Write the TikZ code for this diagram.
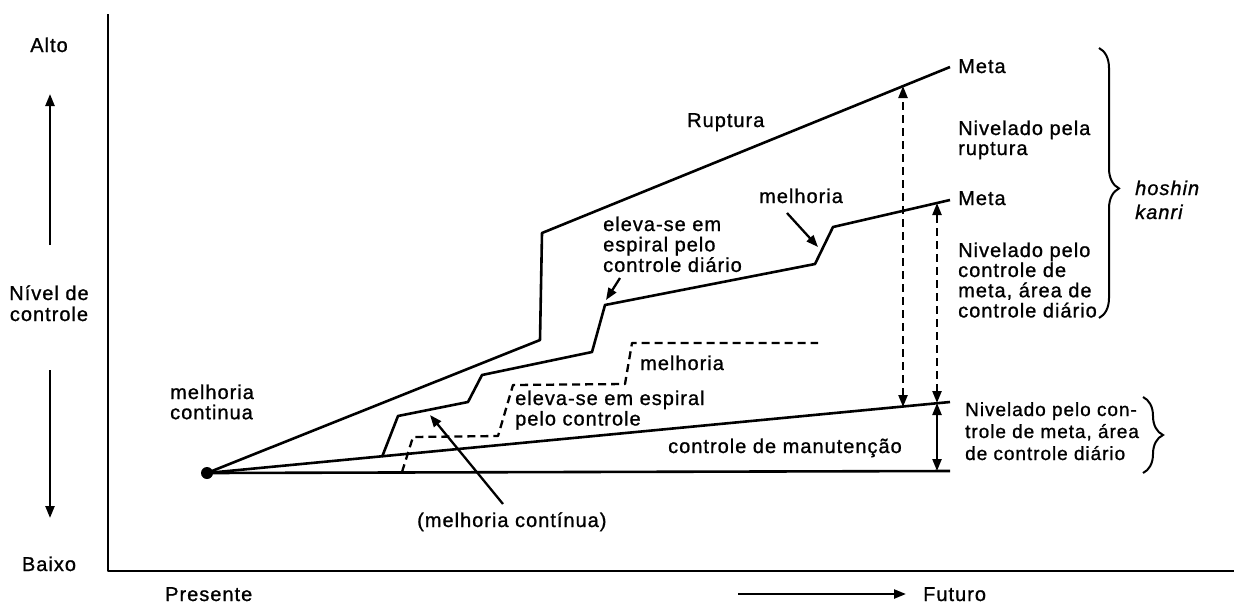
\documentclass[tikz,border=0pt]{standalone}
\usepackage{fontspec}
\setmainfont{Liberation Sans}[LetterSpace=5, FakeBold=1]
\usetikzlibrary{arrows.meta,decorations.pathreplacing}
\newcommand{\lstack}[1]{\begin{tabular}[t]{@{}l@{}}#1\end{tabular}}
\newcommand{\cstack}[1]{\begin{tabular}[t]{@{}c@{}}#1\end{tabular}}
\begin{document}
\begin{tikzpicture}[x=1pt,y=-1pt,
  lbl/.style={inner sep=0pt, anchor=base west, font=\fontsize{20}{#1}\selectfont},
  lbl/.default=19.5,
  mainline/.style={line width=2.6pt, line join=round},
  dashline/.style={line width=2.3pt, dash pattern=on 8pt off 5pt, line join=round},
  axisline/.style={line width=2.3pt, line join=round},
  tipped/.style={-{Triangle[length=12pt,width=9pt]}},
  bothtips/.style={{Triangle[length=12pt,width=9pt]}-{Triangle[length=12pt,width=9pt]}},
  bracket/.style={line width=2pt, decorate, decoration={brace, amplitude=#1}}
]
\useasboundingbox (0,0) rectangle (1234,606);

% axes
\coordinate (ytop) at (108,14);
\coordinate (orig) at (108,571);
\coordinate (xend) at (1234,571);
\draw[axisline] (ytop) -- (orig) -- (xend);

% vertical scale labels
\node[lbl, anchor=base] (alto) at (49,52) {Alto};
\node[lbl, anchor=base] (baixo) at (49,571) {Baixo};
\node[lbl=21, anchor=base] (nivel) at (49,300) {\cstack{Nível de\\controle}};
\coordinate (up0) at (50,245);
\coordinate (up1) at (50,94);
\coordinate (dn0) at (50,370);
\coordinate (dn1) at (50,518);
\draw[axisline, tipped] (up0) -- (up1);
\draw[axisline, tipped] (dn0) -- (dn1);

% time labels
\node[lbl] (pres) at (165,601) {Presente};
\node[lbl] (fut) at (923,601) {Futuro};
\coordinate (fa) at (738,594);
\coordinate (fb) at (906,594);
\draw[axisline, tipped] (fa) -- (fb);

% origin and the three base lines
\coordinate (o) at (207,473);
\coordinate (r1) at (540,340);
\coordinate (r2) at (542,233);
\coordinate (r3) at (950,67);
\coordinate (m1) at (950,402);
\coordinate (b1) at (950,471);
\draw[mainline] (o) -- (r1) -- (r2) -- (r3);
\draw[mainline] (o) -- (m1);
\draw[mainline] (o) -- (b1);
\fill (o) circle (6);

% staircase of daily control
\coordinate (a1) at (382,457);
\coordinate (a2) at (398,416);
\coordinate (a3) at (468,402);
\coordinate (a4) at (482,375);
\coordinate (a5) at (592,352);
\coordinate (a6) at (605,305);
\coordinate (a7) at (815,264);
\coordinate (a8) at (833,227);
\coordinate (a9) at (950,200);
\draw[mainline] (a1) -- (a2) -- (a3) -- (a4) -- (a5) -- (a6) -- (a7) -- (a8) -- (a9);

% dashed staircase of continuous improvement
\coordinate (d1) at (402,472);
\coordinate (d2) at (413,437);
\coordinate (d3) at (498,436);
\coordinate (d4) at (513,385);
\coordinate (d5) at (625,384);
\coordinate (d6) at (632,343);
\coordinate (d7) at (818,343);
\draw[dashline] (d1) -- (d2) -- (d3) -- (d4) -- (d5) -- (d6) -- (d7);

% level arrows on the right
\coordinate (p1) at (903,407);
\coordinate (p2) at (903,86);
\coordinate (q1) at (937,403);
\coordinate (q2) at (937,203);
\coordinate (q3) at (937,471);
\draw[dashline, bothtips] (p1) -- (p2);
\draw[dashline, bothtips] (q1) -- (q2);
\draw[axisline, bothtips] (q3) -- (q1);

% labels along the lines
\node[lbl] (rup) at (687,127) {Ruptura};
\node[lbl] (mel1) at (759,203) {melhoria};
\coordinate (mel1a) at (787,213);
\coordinate (mel1b) at (818,247);
\draw[axisline, tipped] (mel1a) -- (mel1b);
\node[lbl=19.5] (esp1) at (603,231) {\lstack{eleva-se em\\espiral pelo\\controle diário}};
\coordinate (esp1a) at (620,278);
\coordinate (esp1b) at (606,300);
\draw[axisline, tipped] (esp1a) -- (esp1b);
\node[lbl] (mel2) at (640,370) {melhoria};
\node[lbl=20] (esp2) at (515,405) {\lstack{eleva-se em espiral\\pelo controle}};
\node[lbl=19] (melc) at (170,399) {\lstack{melhoria\\continua}};
\node[lbl] (melp) at (417,527) {(melhoria contínua)};
\coordinate (melpa) at (503,504);
\coordinate (melpb) at (430,415);
\draw[axisline, tipped] (melpa) -- (melpb);
\node[lbl] (manut) at (668,453) {controle de manutenção};

% right column
\node[lbl] (meta1) at (958,73) {Meta};
\node[lbl=20] (niv1) at (958,135) {\lstack{Nivelado pela\\ruptura}};
\node[lbl] (meta2) at (958,205) {Meta};
\node[lbl=18.3] (niv2) at (958,257) {\lstack{Nivelado pelo\\controle de\\meta, área de\\controle diário}};
\node[inner sep=0pt, anchor=base west, font=\fontsize{19}{22}\selectfont] (niv3) at (965,416) {\lstack{Nivelado pelo con-\\trole de meta, área\\de controle diário}};
\node[lbl=24, font=\fontsize{20}{24}\selectfont\itshape] (hk) at (1135,195) {\lstack{hoshin\\kanri}};

% braces
\coordinate (br1a) at (1099,48);
\coordinate (br1b) at (1099,318);
\coordinate (br2a) at (1143,397);
\coordinate (br2b) at (1143,473);
\draw[bracket=20pt, decoration={aspect=0.52}] (br1a) -- (br1b);
\draw[bracket=20pt] (br2a) -- (br2b);
\end{tikzpicture}
\end{document}
